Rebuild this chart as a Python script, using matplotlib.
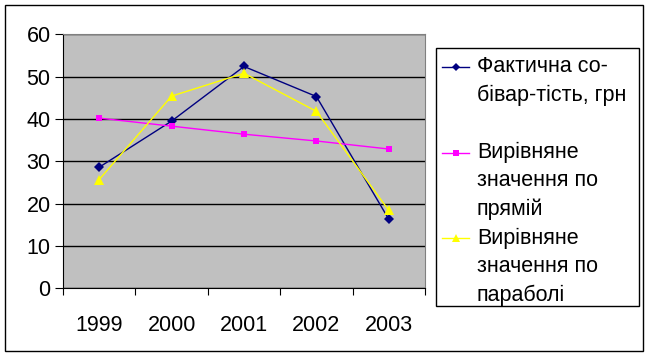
"""Фактична собівартість та вирівняні значення, 1999-2003."""
import matplotlib.pyplot as plt
from matplotlib.lines import Line2D
from matplotlib.patches import Rectangle

plt.rcParams['font.family'] = ['Liberation Sans', 'DejaVu Sans']

years = ['1999', '2000', '2001', '2002', '2003']
actual = [28.6, 39.5, 52.4, 45.3, 16.3]
linear = [40.2, 38.3, 36.4, 34.8, 32.9]
parabola = [25.7, 45.4, 50.8, 41.8, 18.4]

labels = [
    ['Фактична со-', 'бівар-тість, грн', ''],
    ['Вирівняне', 'значення по', 'прямій'],
    ['Вирівняне', 'значення по', 'параболі'],
]
styles = [
    dict(color='#000080', marker='D', ms=5),
    dict(color='#FF00FF', marker='s', ms=5),
    dict(color='#FFFF00', marker='^', ms=6.5),
]

W, H = 649, 356
FS = 15.5
fig = plt.figure(figsize=(W / 100, H / 100), dpi=100)

# outer chart frame
fig.patches.append(Rectangle((5 / W, 1 - 351 / H), 638 / W, 346 / H,
                             transform=fig.transFigure, fill=False,
                             edgecolor='black', lw=1))

ax = fig.add_axes([63 / W, 1 - 288.3 / H, 362 / W, 254 / H])
ax.set_facecolor('#C0C0C0')

x = range(len(years))
for series, st in zip([actual, linear, parabola], styles):
    ax.plot(x, series, lw=1, markeredgewidth=0, **st)

ax.set_xlim(-0.5, len(years) - 0.5)
ax.set_ylim(0, 60)
ax.set_yticks(range(0, 61, 10))
ax.set_xticks([i - 0.5 for i in range(len(years) + 1)], minor=False)
ax.set_xticklabels([])
ax.set_xticks(list(x), minor=True)
ax.set_xticklabels(years, minor=True)
ax.tick_params(axis='x', which='minor', length=0, pad=19, labelsize=FS)
ax.tick_params(axis='x', which='major', length=5, direction='out')
ax.tick_params(axis='y', length=6, direction='out', labelsize=FS, pad=3)
ax.grid(axis='y', color='black', lw=1)
ax.set_axisbelow(True)
for side in ['top', 'right']:
    ax.spines[side].set_color('#808080')

# legend drawn by hand
fig.patches.append(Rectangle((436 / W, 1 - 306 / H), 203 / W, 258 / H,
                             transform=fig.transFigure, fill=False,
                             edgecolor='black', lw=1))
y0, step = 67, 28.5
row = 0
for lines, st in zip(labels, styles):
    yy = 1 - (y0 + row * step) / H
    fig.add_artist(Line2D([442 / W, 469 / W], [yy, yy], lw=1,
                          transform=fig.transFigure, color=st['color']))
    fig.add_artist(Line2D([455.5 / W], [yy], transform=fig.transFigure,
                          color=st['color'], marker=st['marker'],
                          ms=st['ms'] - 1, markeredgewidth=0, lw=0))
    for ln in lines:
        fig.text(477 / W, 1 - (y0 + row * step) / H, ln, fontsize=FS,
                 va='center', ha='left')
        row += 1

fig.savefig('out.png', dpi=100)
